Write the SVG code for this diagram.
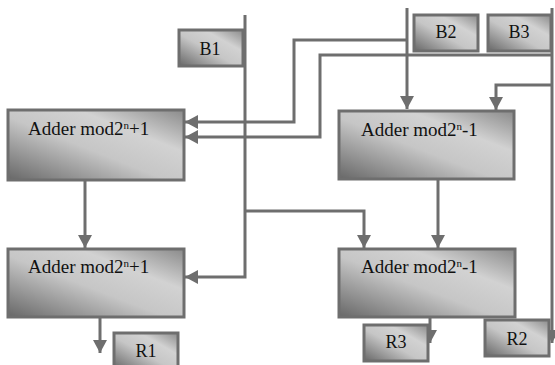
<svg xmlns="http://www.w3.org/2000/svg" width="555" height="365" viewBox="0 0 555 365">
<style>
.box{fill:url(#g);stroke:#6e6e6e;stroke-width:3}
.ln{fill:none;stroke:#6e6e6e;stroke-width:3;marker-end:url(#ah)}
.t{font-family:"Liberation Serif","Times New Roman",serif;font-size:18px;fill:#111}
.a{font-size:19px}
.c{text-anchor:middle}
.sup{font-size:11px}
</style>
<defs>
<linearGradient id="g" x1="0" y1="1" x2="1" y2="0">
<stop offset="0" stop-color="#676767"/>
<stop offset="0.45" stop-color="#c6c6c6"/>
<stop offset="0.7" stop-color="#d2d2d2"/>
<stop offset="1" stop-color="#8a8a8a"/>
</linearGradient>
<marker id="ah" markerUnits="userSpaceOnUse" markerWidth="14" markerHeight="14" refX="13" refY="7" orient="auto">
<path d="M0,0 L13,7 L0,14 z" fill="#6e6e6e"/>
</marker>
</defs>
<g id="connectors">
<path class="ln" d="M245,15 V277 H185"/>
<path class="ln" d="M245,211 H364 V248"/>
<path class="ln" d="M407,8 V109"/>
<path class="ln" d="M407,40 H294 V122 H185"/>
<path class="ln" d="M552,8 V343"/>
<path class="ln" d="M552,55 H320 V137 H185"/>
<path class="ln" d="M552,85 H496 V110"/>
<path class="ln" d="M85,180 V248"/>
<path class="ln" d="M438,179 V248"/>
<path class="ln" d="M100,317 V353"/>
<path class="ln" d="M430,317 V343"/>
</g>
<g id="adder1"><rect class="box" x="8" y="110" width="176" height="70"/><text class="t a" x="28" y="135">Adder mod2<tspan class="sup" dy="-6">n</tspan><tspan dy="6">+1</tspan></text></g>
<g id="adder2"><rect class="box" x="339" y="111" width="175" height="68"/><text class="t a" x="361" y="136">Adder mod2<tspan class="sup" dy="-6">n</tspan><tspan dy="6">-1</tspan></text></g>
<g id="adder3"><rect class="box" x="8" y="249" width="176" height="68"/><text class="t a" x="28" y="273">Adder mod2<tspan class="sup" dy="-6">n</tspan><tspan dy="6">+1</tspan></text></g>
<g id="adder4"><rect class="box" x="339" y="249" width="176" height="68"/><text class="t a" x="361" y="273">Adder mod2<tspan class="sup" dy="-6">n</tspan><tspan dy="6">-1</tspan></text></g>
<g id="B1"><rect class="box" x="179" y="30" width="64" height="36"/><text class="t c" x="210" y="55">B1</text></g>
<g id="B2"><rect class="box" x="414" y="15" width="64" height="36"/><text class="t c" x="446" y="38">B2</text></g>
<g id="B3"><rect class="box" x="488" y="15" width="63" height="36"/><text class="t c" x="519" y="38">B3</text></g>
<g id="R1"><rect class="box" x="114" y="333" width="64" height="36"/><text class="t c" x="146" y="357">R1</text></g>
<g id="R3"><rect class="box" x="364" y="325" width="64" height="36"/><text class="t c" x="396" y="348">R3</text></g>
<g id="R2"><rect class="box" x="485" y="320" width="64" height="36"/><text class="t c" x="517" y="345">R2</text></g>
</svg>
